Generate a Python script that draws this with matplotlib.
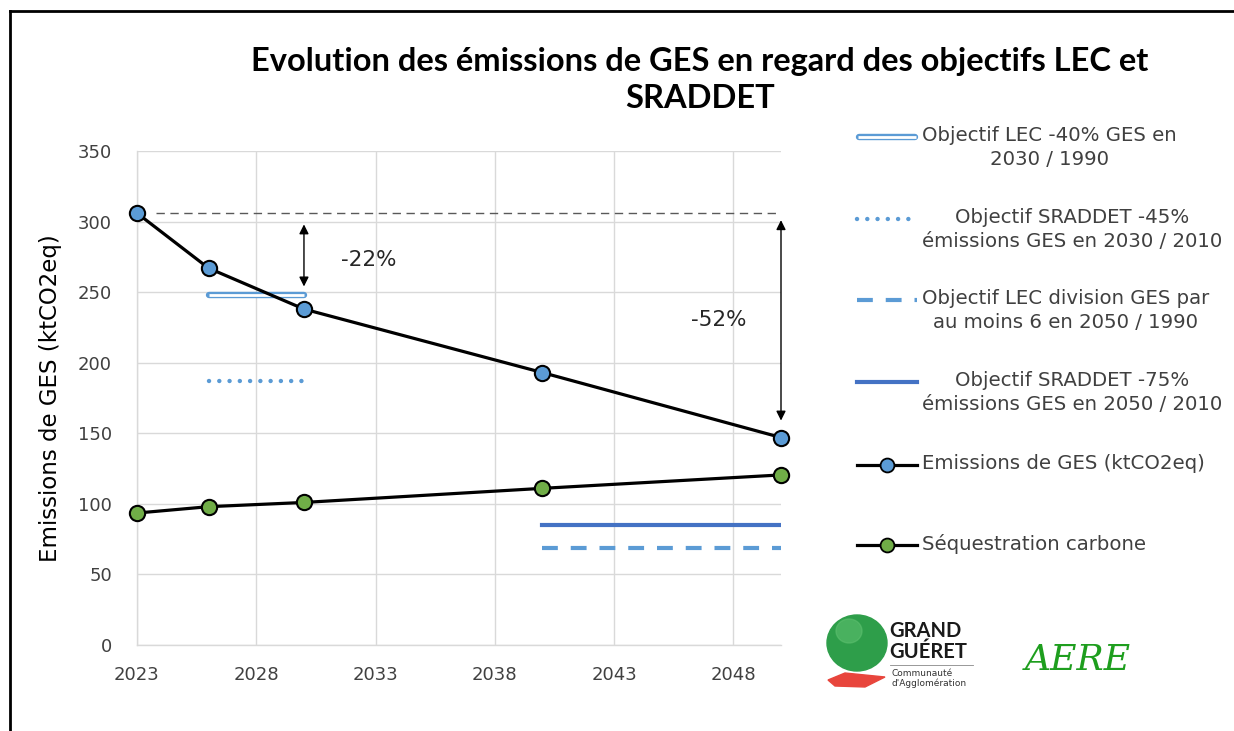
import matplotlib
matplotlib.use("Agg")
import matplotlib.pyplot as plt
from matplotlib.lines import Line2D
from matplotlib.patches import Ellipse, Polygon

plt.rcParams['font.family'] = ['DejaVu Sans']

# ---------------- data ----------------
years = [2023, 2026, 2030, 2040, 2050]
emissions = [306, 267, 238, 193, 147]
sequestration = [93.5, 98, 101, 111, 120.5]

lec_2030_years = [2026, 2030]
lec_2030_value = [248, 248]
sraddet_2030_years = [2026, 2030]
sraddet_2030_value = [187, 187]
lec_2050_years = [2040, 2050]
lec_2050_value = [69, 69]
sraddet_2050_years = [2040, 2050]
sraddet_2050_value = [85, 85]

ref_years = [2023.8, 2050]
ref_value = [306, 306]

x_ticks = [2023, 2028, 2033, 2038, 2043, 2048]
y_ticks = [0, 50, 100, 150, 200, 250, 300, 350]

title = "Evolution des émissions de GES en regard des objectifs LEC et\nSRADDET"
ylabel = "Emissions de GES (ktCO2eq)"
legend_labels = [
    "Objectif LEC -40% GES en\n2030 / 1990",
    "Objectif SRADDET -45%\némissions GES en 2030 / 2010",
    "Objectif LEC division GES par\nau moins 6 en 2050 / 1990",
    "Objectif SRADDET -75%\némissions GES en 2050 / 2010",
    "Emissions de GES (ktCO2eq)",
    "Séquestration carbone",
]

BLUE = "#5B9BD5"
DBLUE = "#4472C4"
GREEN = "#70AD47"
GRID = "#D9D9D9"
TXT = "#404040"

W, H = 1234, 731
fig = plt.figure(figsize=(W / 100, H / 100), dpi=100)
ax = fig.add_axes([137 / W, 1 - 645 / H, (781 - 137) / W, (645 - 151) / H])

ax.set_xlim(2023, 2050)
ax.set_ylim(0, 350)
ax.set_xticks(x_ticks)
ax.set_yticks(y_ticks)
ax.grid(True, color=GRID, lw=1)
ax.set_axisbelow(True)
for s in ["top", "right"]:
    ax.spines[s].set_visible(False)
for s in ["left", "bottom"]:
    ax.spines[s].set_color(GRID)
    ax.spines[s].set_linewidth(1)
ax.tick_params(axis="y", length=0, labelsize=13, colors=TXT, pad=18)
ax.tick_params(axis="x", length=0, labelsize=13, colors=TXT, pad=15)
ax.set_ylabel(ylabel, fontsize=16.5, color="black", labelpad=11)

# objectives
ax.plot(lec_2030_years, lec_2030_value, color=BLUE, lw=4.6, solid_capstyle="round", zorder=3)
ax.plot(lec_2030_years, lec_2030_value, color="white", lw=2.0, solid_capstyle="butt", zorder=3.1)
ax.plot(sraddet_2030_years, sraddet_2030_value, color=BLUE, lw=3.2,
        linestyle=(0, (0.01, 2.3)), dash_capstyle="round", zorder=3)
ax.plot(lec_2050_years, lec_2050_value, color=BLUE, lw=3, linestyle=(0, (3.8, 3.1)), zorder=3)
ax.plot(sraddet_2050_years, sraddet_2050_value, color=DBLUE, lw=3, zorder=3)

# reference dashed line
ax.plot(ref_years, ref_value, color="#595959", lw=1, linestyle=(0, (6, 4)), zorder=2)

# main series
ax.plot(years, emissions, color="black", lw=2.3, marker="o", markersize=11,
        markerfacecolor=BLUE, markeredgecolor="black", markeredgewidth=1.5, zorder=5, clip_on=False)
ax.plot(years, sequestration, color="black", lw=2.3, marker="o", markersize=11,
        markerfacecolor=GREEN, markeredgecolor="black", markeredgewidth=1.5, zorder=5, clip_on=False)

# arrows
arrow_kw = dict(arrowstyle="<|-|>", color="black", lw=1, mutation_scale=14, shrinkA=0, shrinkB=0)
ax.annotate("", xy=(2030, 254), xytext=(2030, 298), arrowprops=arrow_kw)
ax.annotate("", xy=(2050, 159), xytext=(2050, 301), arrowprops=arrow_kw, annotation_clip=False)
ax.text(2032.7, 273, "-22%", fontsize=15.5, ha="center", va="center", color="#262626")
ax.text(2047.4, 230, "-52%", fontsize=15.5, ha="center", va="center", color="#262626")

# title
fig.text(700 / W, 1 - 80 / H, title, ha="center", va="center", fontsize=23.5,
         fontweight="bold", family="Lato", linespacing=1.3, color="black")

# legend (manual)
def fx(px):
    return px / W

def fy(py):
    return 1 - py / H

hx0, hx1, tx = 857, 917, 922
entries_y = [137, 219, 300, 382, 465, 545]
fig.add_artist(Line2D([fx(hx0 + 2), fx(hx1 - 2)], [fy(137)] * 2, color=BLUE, lw=4.6, solid_capstyle="round"))
fig.add_artist(Line2D([fx(hx0 + 1), fx(hx1 - 1)], [fy(137)] * 2, color="white", lw=2.0, solid_capstyle="butt"))
fig.add_artist(Line2D([fx(hx0), fx(hx1)], [fy(219)] * 2, color=BLUE, lw=3.2,
                      linestyle=(0, (0.01, 2.3)), dash_capstyle="round"))
fig.add_artist(Line2D([fx(hx0), fx(hx1)], [fy(300)] * 2, color=BLUE, lw=3, linestyle=(0, (3.8, 3.1))))
fig.add_artist(Line2D([fx(hx0), fx(hx1)], [fy(382)] * 2, color=DBLUE, lw=3))
for yy, fc in [(465, BLUE), (545, GREEN)]:
    fig.add_artist(Line2D([fx(hx0), fx(hx1)], [fy(yy)] * 2, color="black", lw=2.3))
    fig.add_artist(Line2D([fx(887)], [fy(yy)], marker="o", markersize=10, markerfacecolor=fc,
                          markeredgecolor="black", markeredgewidth=1.3, lw=0))

for lab, yy in zip(legend_labels, entries_y):
    fig.text(fx(tx), fy(yy - 11), lab, ha="left", va="top", fontsize=14.2, color=TXT,
             multialignment="center", linespacing=1.35)

# logos (drawn as simple shapes + text)
fig.add_artist(Ellipse((fx(857), fy(643)), 60 / W, 56 / H, color="#2E9E4A"))
fig.add_artist(Ellipse((fx(849), fy(631)), 26 / W, 24 / H, color="#5CBF6E", alpha=0.6))
fig.add_artist(Polygon([[fx(828), fy(680)], [fx(845), fy(673)], [fx(885), fy(677)], [fx(865), fy(687)], [fx(835), fy(686)]],
                       closed=True, color="#E8453C"))
fig.text(fx(889), fy(631), "GRAND", fontsize=14.5, fontweight="bold", family="Lato", color="#1a1a1a", va="center", ha="left")
fig.text(fx(889), fy(652), "GUÉRET", fontsize=14.5, fontweight="bold", family="Lato", color="#1a1a1a", va="center", ha="left")
fig.add_artist(Line2D([fx(890), fx(973)], [fy(665)] * 2, color="#888888", lw=0.6))
fig.text(fx(892), fy(674), "Communauté", fontsize=6.5, color="#333333", va="center", ha="left")
fig.text(fx(892), fy(683), "d'Agglomération", fontsize=6.5, color="#333333", va="center", ha="left")
fig.text(fx(1078), fy(660), "AERE", fontsize=26, fontstyle="italic", family="DejaVu Serif",
         color="#1E9E1E", va="center", ha="center")

# frame lines at top-left
fig.add_artist(Line2D([fx(10), fx(10)], [fy(11), 0], color="black", lw=2))
fig.add_artist(Line2D([fx(10), 1], [fy(11), fy(11)], color="black", lw=2))

fig.savefig("out.png", dpi=100)
